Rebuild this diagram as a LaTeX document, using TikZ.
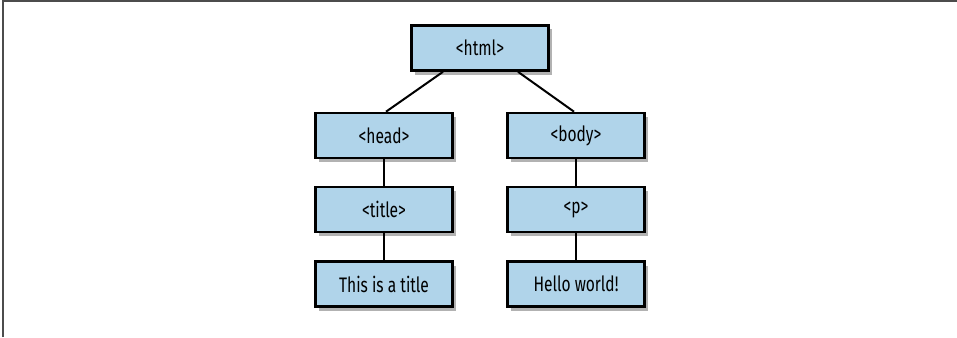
\documentclass[tikz,border=0pt]{standalone}
\usepackage{fontspec}
\setmainfont[FakeStretch=0.74]{Fira Sans}
\usetikzlibrary{shadows}
\definecolor{boxblue}{HTML}{B0D4EA}
\tikzset{
  tag/.style={draw=black, line width=2.6pt, fill=boxblue, minimum width=137pt, minimum height=45pt,
    inner sep=0pt, font=\fontsize{21}{24}\selectfont,
    drop shadow={shadow xshift=3pt, shadow yshift=-4pt, fill=black, opacity=0.3}},
  link/.style={line width=2pt, draw=black}
}
\begin{document}
\begin{tikzpicture}[x=1pt,y=-1pt]
\useasboundingbox (0,0) rectangle (957,337);
\draw[line width=2pt, draw=black!70] (2.5,337) -- (2.5,1) -- (957,1);
\node[tag] (html) at (480,48) {<html>};
\node[tag] (head) at (384,135.5) {<head>};
\node[tag] (body) at (576,135.5) {<body>};
\node[tag] (title) at (384,209.5) {<title>};
\node[tag] (p) at (576,209.5) {<p>};
\node[tag] (ttext) at (384,284) {This is a title};
\node[tag] (hello) at (576,284) {Hello world!};
\draw[link] (html.south -| 443,0) -- (head.north -| 386,0);
\draw[link] (html.south -| 518,0) -- (body.north -| 574,0);
\draw[link] (head) -- (title);
\draw[link] (title) -- (ttext);
\draw[link] (body) -- (p);
\draw[link] (p) -- (hello);
\end{tikzpicture}
\end{document}
